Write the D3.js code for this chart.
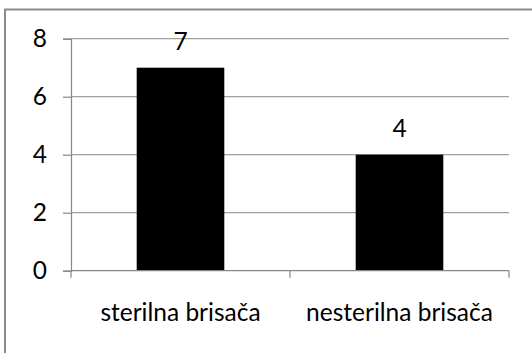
<!DOCTYPE html>
<html>
<head>
<meta charset="utf-8">
<script src="https://cdn.jsdelivr.net/npm/d3@7"></script>
<style>
  html, body { margin: 0; padding: 0; background: #fff; }
  svg { display: block; }
  text { font-family: Lato, "Open Sans", sans-serif; fill: #000; }
</style>
</head>
<body>
<svg id="chart" width="532" height="353"></svg>
<script>
const categories = ["sterilna brisača", "nesterilna brisača"];
const counts = [7, 4];
const yTicks = [0, 2, 4, 6, 8];

const svg = d3.select("#chart");
const W = 532, H = 353;
const plot = { left: 71, right: 509, top: 38.7, bottom: 270.7 };
const fontSize = 24.5;

// Outer chart frame (cropped on right and bottom)
svg.append("rect")
  .attr("x", 5).attr("y", 9.5)
  .attr("width", W + 20).attr("height", H + 20)
  .attr("fill", "none")
  .attr("stroke", "#8c8c8c")
  .attr("stroke-width", 2);

const x = d3.scaleBand()
  .domain(categories)
  .range([plot.left, plot.right])
  .paddingInner(0.6)
  .paddingOuter(0.3);

const y = d3.scaleLinear()
  .domain([0, 8])
  .range([plot.bottom, plot.top]);

// Horizontal gridlines
svg.append("g")
  .selectAll("line")
  .data(yTicks.filter(d => d > 0))
  .join("line")
  .attr("x1", plot.left).attr("x2", plot.right)
  .attr("y1", d => y(d)).attr("y2", d => y(d))
  .attr("stroke", "#a0a0a0")
  .attr("stroke-width", 1.2);

// Y axis
const yAxis = svg.append("g")
  .attr("transform", `translate(${plot.left},0)`)
  .call(d3.axisLeft(y).tickValues(yTicks).tickSize(8).tickPadding(16));
yAxis.select(".domain").attr("stroke", "#868686").attr("stroke-width", 1.2);
yAxis.selectAll(".tick line").attr("stroke", "#868686").attr("stroke-width", 1.2);
yAxis.selectAll(".tick text")
  .attr("font-size", fontSize)
  .attr("font-family", "Lato, 'Open Sans', sans-serif")
  .attr("fill", "#000");

// Bars
svg.append("g")
  .selectAll("rect")
  .data(categories)
  .join("rect")
  .attr("x", d => x(d))
  .attr("width", x.bandwidth())
  .attr("y", (d, i) => y(counts[i]))
  .attr("height", (d, i) => plot.bottom - y(counts[i]))
  .attr("fill", "#000");

// X axis with boundary ticks between categories
const xAxisG = svg.append("g");
xAxisG.append("line")
  .attr("x1", plot.left).attr("x2", plot.right)
  .attr("y1", plot.bottom).attr("y2", plot.bottom)
  .attr("stroke", "#868686").attr("stroke-width", 1.2);
const step = (plot.right - plot.left) / categories.length;
xAxisG.selectAll("line.tick")
  .data(d3.range(categories.length + 1))
  .join("line")
  .attr("class", "tick")
  .attr("x1", i => plot.left + i * step).attr("x2", i => plot.left + i * step)
  .attr("y1", plot.bottom).attr("y2", plot.bottom + 7)
  .attr("stroke", "#868686").attr("stroke-width", 1.2);

// Category labels
svg.append("g")
  .selectAll("text")
  .data(categories)
  .join("text")
  .attr("x", d => x(d) + x.bandwidth() / 2)
  .attr("y", 321)
  .attr("text-anchor", "middle")
  .attr("font-size", fontSize)
  .text(d => d);

// Value labels above bars
svg.append("g")
  .selectAll("text")
  .data(categories)
  .join("text")
  .attr("x", d => x(d) + x.bandwidth() / 2)
  .attr("y", (d, i) => y(counts[i]) - 18)
  .attr("text-anchor", "middle")
  .attr("font-size", fontSize)
  .text((d, i) => counts[i]);
</script>
</body>
</html>
